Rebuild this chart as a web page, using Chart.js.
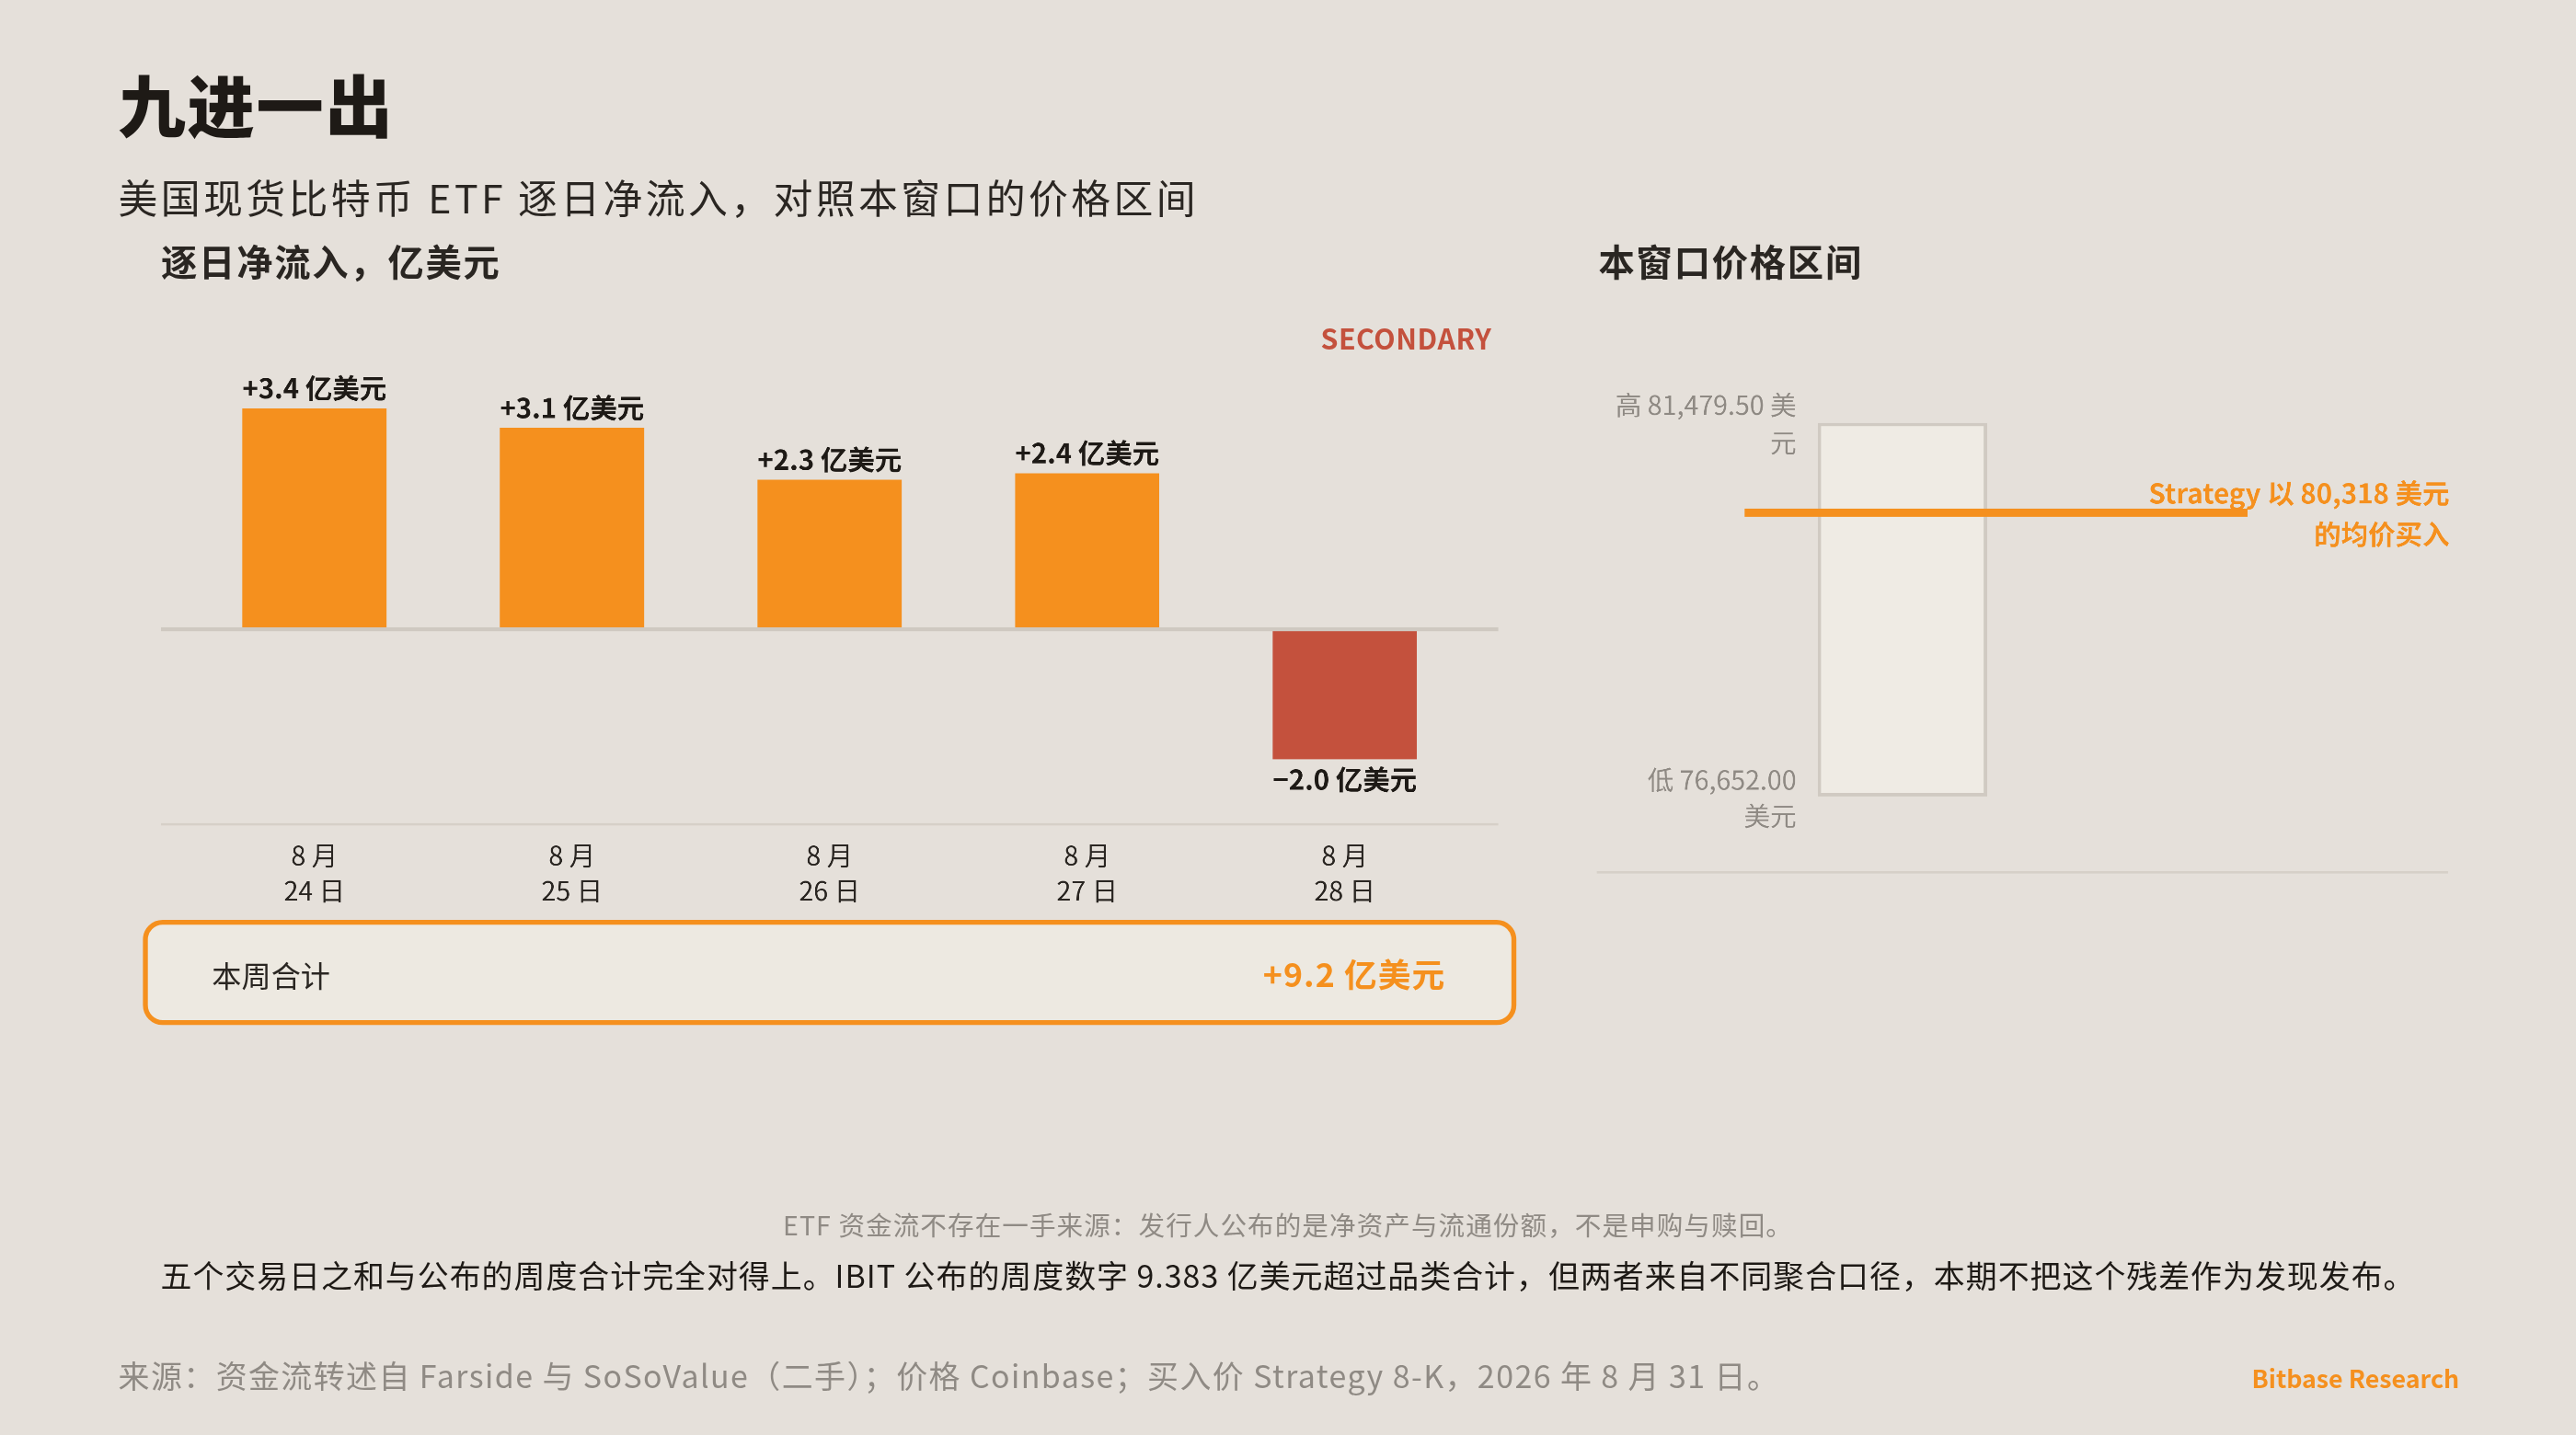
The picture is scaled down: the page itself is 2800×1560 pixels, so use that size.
<!DOCTYPE html>
<html lang="zh">
<head>
<meta charset="UTF-8">
<title>九进一出</title>
<script src="https://cdn.jsdelivr.net/npm/chart.js@4.4.0/dist/chart.umd.min.js"></script>
<style>
  html, body { margin: 0; padding: 0; background: #e5e0da; }
  body { width: 2800px; height: 1560px; overflow: hidden; font-family: "Noto Sans CJK SC", "Noto Sans", sans-serif; }
  #stage { position: absolute; left: 0; top: 0; width: 1568px; height: 874px; transform: scale(1.7857); transform-origin: 0 0; color: #1e1a16; }
  .abs { position: absolute; white-space: nowrap; }
</style>
</head>
<body>
<div id="stage">
  <div class="abs" style="left:72px;top:32px;font-size:41px;font-weight:900;letter-spacing:1px;">九进一出</div>
  <div class="abs" style="left:72px;top:102px;font-size:24px;color:#2a2622;letter-spacing:1.9px;">美国现货比特币 ETF 逐日净流入，对照本窗口的价格区间</div>
  <div class="abs" style="left:98px;top:142px;font-size:22px;font-weight:700;color:#2a2622;letter-spacing:1px;">逐日净流入，亿美元</div>
  <div class="abs" style="right:660px;top:193px;font-size:17px;font-weight:700;color:#c4513d;letter-spacing:0.3px;">SECONDARY</div>
  <div class="abs" style="left:973px;top:142px;font-size:22px;font-weight:700;color:#2a2622;letter-spacing:1px;">本窗口价格区间</div>

  <canvas id="flows" class="abs" style="left:98px;top:190px;width:814px;height:363px;"></canvas>
  <canvas id="range" class="abs" style="left:972px;top:200px;width:520px;height:340px;"></canvas>

  <div class="abs" style="left:87px;top:560px;width:830px;height:58px;border:3px solid #f5901e;border-radius:12px;background:#ede9e1;"></div>
  <div class="abs" style="left:129px;top:580px;font-size:18px;color:#2a2622;">本周合计</div>
  <div class="abs" style="right:688px;top:578px;font-size:20px;font-weight:700;color:#f5901e;letter-spacing:0.6px;">+9.2 亿美元</div>

  <div class="abs" style="left:0;width:1568px;text-align:center;top:733px;font-size:16px;color:#8f8a84;letter-spacing:0.6px;">ETF 资金流不存在一手来源：发行人公布的是净资产与流通份额，不是申购与赎回。</div>
  <div class="abs" style="left:0;width:1568px;text-align:center;top:762px;font-size:19px;color:#1e1a16;letter-spacing:0.55px;">五个交易日之和与公布的周度合计完全对得上。IBIT 公布的周度数字 9.383 亿美元超过品类合计，但两者来自不同聚合口径，本期不把这个残差作为发现发布。</div>
  <div class="abs" style="left:72px;top:823px;font-size:19px;color:#8f8a84;letter-spacing:0.8px;">来源：资金流转述自 Farside 与 SoSoValue（二手）；价格 Coinbase；买入价 Strategy 8-K，2026 年 8 月 31 日。</div>
  <div class="abs" style="right:71px;top:828px;font-size:15px;font-weight:700;color:#f5901e;">Bitbase Research</div>
</div>
<script>
const days = [['8 月', '24 日'], ['8 月', '25 日'], ['8 月', '26 日'], ['8 月', '27 日'], ['8 月', '28 日']];
const flows = [3.4, 3.1, 2.3, 2.4, -2.0];
const flowLabels = ['+3.4 亿美元', '+3.1 亿美元', '+2.3 亿美元', '+2.4 亿美元', '−2.0 亿美元'];
const priceLow = 76652.00;
const priceHigh = 81479.50;
const strategyBuy = 80318;

const ORANGE = '#f5901e', RED = '#c4513d';
const FONT = '"Noto Sans CJK SC", "Noto Sans", sans-serif';

const flowPlugin = {
  id: 'flowPlugin',
  afterDatasetsDraw(chart) {
    const { ctx, chartArea, scales } = chart;
    const y0 = scales.y.getPixelForValue(0);
    ctx.save();
    ctx.strokeStyle = '#cfc9c1'; ctx.lineWidth = 2.5;
    ctx.beginPath(); ctx.moveTo(0, y0); ctx.lineTo(chart.width, y0); ctx.stroke();
    ctx.strokeStyle = '#d6d0c8'; ctx.lineWidth = 1.5;
    ctx.beginPath(); ctx.moveTo(0, chartArea.bottom); ctx.lineTo(chart.width, chartArea.bottom); ctx.stroke();
    ctx.font = '700 16.5px ' + FONT; ctx.fillStyle = '#1e1a16'; ctx.textAlign = 'center';
    chart.getDatasetMeta(0).data.forEach((bar, i) => {
      if (flows[i] >= 0) { ctx.textBaseline = 'bottom'; ctx.fillText(flowLabels[i], bar.x, bar.y - 4); }
      else { ctx.textBaseline = 'top'; ctx.fillText(flowLabels[i], bar.x, bar.y + 4); }
    });
    ctx.restore();
  }
};

new Chart(document.getElementById('flows'), {
  type: 'bar',
  data: { labels: days, datasets: [{ data: flows, backgroundColor: flows.map(v => v >= 0 ? ORANGE : RED), categoryPercentage: 1, barPercentage: 0.56 }] },
  options: {
    responsive: false, devicePixelRatio: 4, animation: false,
    layout: { padding: { left: 15, right: 15, top: 15, bottom: 0 } },
    plugins: { legend: { display: false }, tooltip: { enabled: false } },
    scales: {
      y: { display: false, min: -3, max: 4.5 },
      x: { grid: { display: false }, border: { display: false },
           ticks: { color: '#2a2622', font: { size: 16, family: FONT, lineHeight: 1.35 }, padding: 0, maxRotation: 0 } }
    }
  },
  plugins: [flowPlugin]
});

const rangePlugin = {
  id: 'rangePlugin',
  afterDatasetsDraw(chart) {
    const { ctx, scales } = chart;
    const bar = chart.getDatasetMeta(0).data[0];
    const left = bar.x - bar.width / 2;
    const yHi = scales.y.getPixelForValue(priceHigh);
    const yLo = scales.y.getPixelForValue(priceLow);
    const yBuy = scales.y.getPixelForValue(strategyBuy);
    ctx.save();
    ctx.strokeStyle = '#d6d0c8'; ctx.lineWidth = 1.5;
    ctx.beginPath(); ctx.moveTo(0, chart.chartArea.bottom); ctx.lineTo(518, chart.chartArea.bottom); ctx.stroke();
    ctx.strokeStyle = ORANGE; ctx.lineWidth = 5;
    ctx.beginPath(); ctx.moveTo(bar.x - 96, yBuy); ctx.lineTo(bar.x + 210, yBuy); ctx.stroke();
    ctx.font = '16px ' + FONT; ctx.fillStyle = '#8f8a84'; ctx.textAlign = 'right'; ctx.textBaseline = 'middle';
    const lx = left - 13;
    ctx.fillText('高 ' + priceHigh.toLocaleString('en-US', { minimumFractionDigits: 2 }) + ' 美', lx, yHi - 11);
    ctx.fillText('元', lx, yHi + 12);
    ctx.fillText('低 ' + priceLow.toLocaleString('en-US', { minimumFractionDigits: 2 }), lx, yLo - 10);
    ctx.fillText('美元', lx, yLo + 12);
    ctx.font = '700 16.5px ' + FONT; ctx.fillStyle = ORANGE;
    ctx.fillText('Strategy 以 ' + strategyBuy.toLocaleString('en-US') + ' 美元', 519, yBuy - 12);
    ctx.fillText('的均价买入', 519, yBuy + 13);
    ctx.restore();
  }
};

new Chart(document.getElementById('range'), {
  type: 'bar',
  data: { labels: ['区间'], datasets: [{ data: [[priceLow, priceHigh]], backgroundColor: '#efebe4', borderColor: '#d0cac2', borderWidth: 2, borderSkipped: false, categoryPercentage: 1, barPercentage: 0.277 }] },
  options: {
    responsive: false, devicePixelRatio: 4, animation: false,
    layout: { padding: { left: 0, right: 148, top: 0, bottom: 9 } },
    plugins: { legend: { display: false }, tooltip: { enabled: false } },
    scales: { y: { display: false, min: 75670, max: 82700 }, x: { display: false } }
  },
  plugins: [rangePlugin]
});
</script>
</body>
</html>
